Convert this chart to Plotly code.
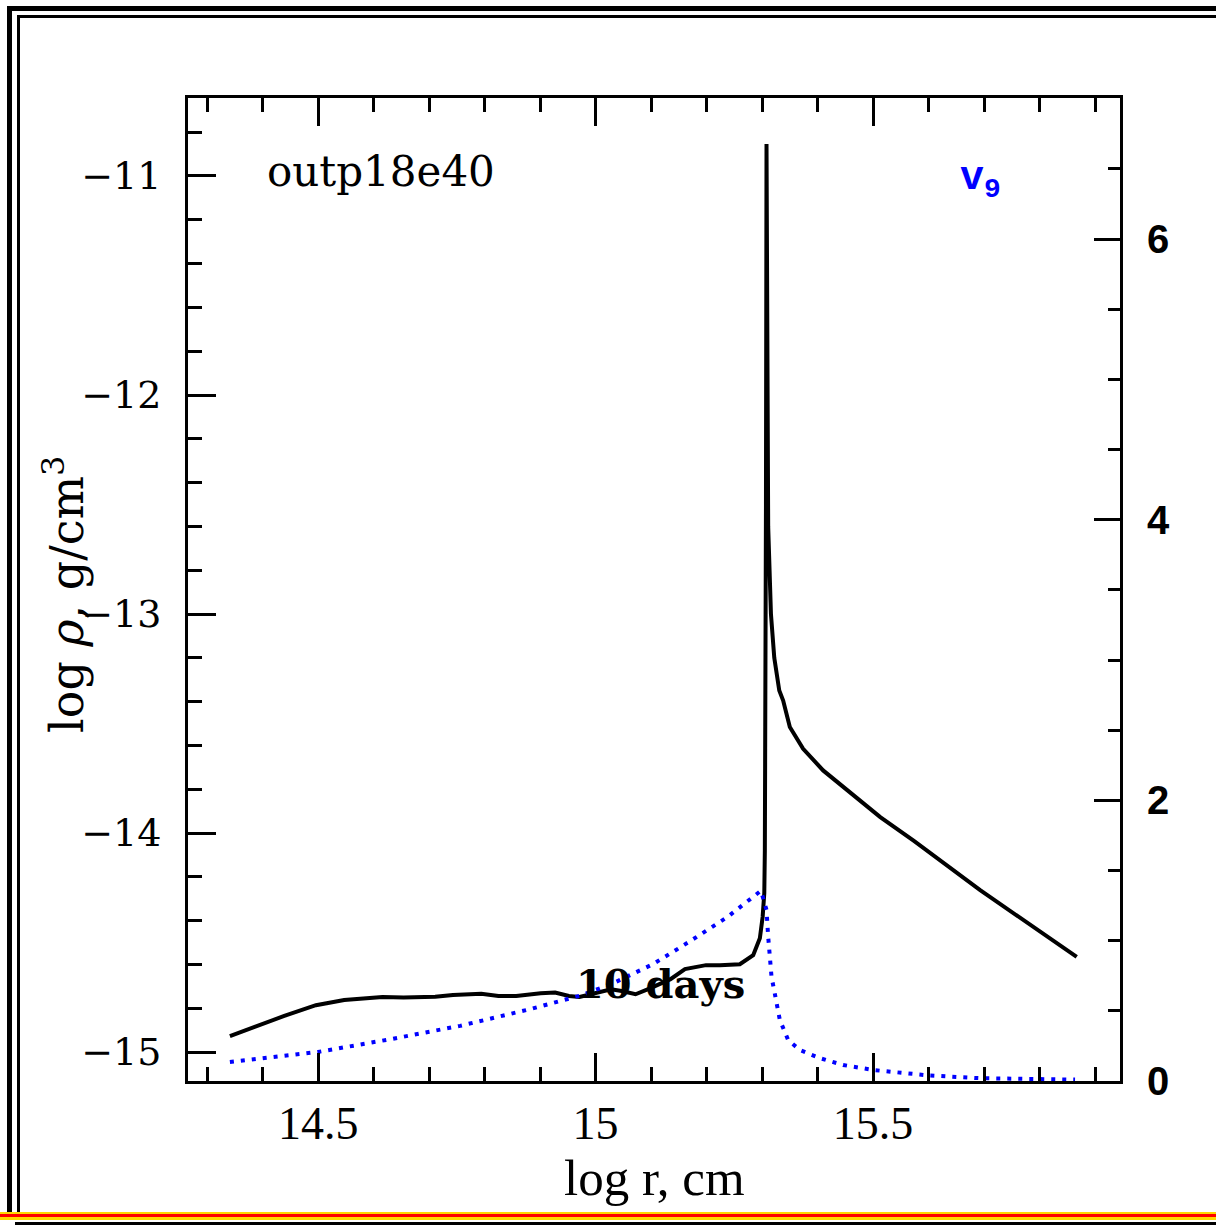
import plotly.graph_objects as go

# ---- data ----
rho_logr = [14.341, 14.401, 14.439, 14.496, 14.547, 14.616, 14.654, 14.711, 14.743, 14.794,
            14.825, 14.857, 14.901, 14.927, 14.952, 14.971, 14.996, 15.028, 15.047, 15.072,
            15.097, 15.135, 15.161, 15.199, 15.224, 15.260, 15.284, 15.296, 15.301, 15.304,
            15.305, 15.306, 15.307, 15.308, 15.309, 15.311, 15.316, 15.322, 15.331, 15.338,
            15.350, 15.374, 15.410, 15.513, 15.573, 15.693, 15.867]
rho_log = [-14.927, -14.869, -14.835, -14.786, -14.762, -14.748, -14.751, -14.747, -14.739, -14.734,
           -14.744, -14.744, -14.731, -14.728, -14.744, -14.748, -14.733, -14.713, -14.721, -14.736,
           -14.710, -14.667, -14.621, -14.603, -14.603, -14.599, -14.558, -14.480, -14.383, -14.274,
           -14.079, -13.500, -12.500, -10.854, -12.000, -12.600, -13.000, -13.200, -13.349, -13.395,
           -13.516, -13.615, -13.714, -13.927, -14.035, -14.261, -14.565]

v_logr = [14.341, 14.5, 14.629, 14.756, 14.882, 14.971, 15.028, 15.104, 15.167, 15.237,
          15.298, 15.308, 15.311, 15.314, 15.317, 15.324, 15.332, 15.347, 15.368, 15.405,
          15.446, 15.501, 15.543, 15.6, 15.692, 15.864]
v9 = [0.135, 0.207, 0.297, 0.393, 0.512, 0.607, 0.690, 0.834, 0.988, 1.167,
      1.356, 1.219, 1.028, 0.886, 0.743, 0.601, 0.435, 0.292, 0.221, 0.162,
      0.114, 0.078, 0.059, 0.040, 0.020, 0.010]

W, H = 1216, 1227
L, R, T, B = 188, 1120, 98, 1081


def px(x):
    return (x - L) / (R - L)


def py(y):
    return (B - y) / (B - T)


fig = go.Figure()
fig.add_trace(go.Scatter(x=rho_logr, y=rho_log, mode="lines",
                         line=dict(color="black", width=4), showlegend=False))
fig.add_trace(go.Scatter(x=v_logr, y=v9, mode="lines", yaxis="y2",
                         line=dict(color="#0000ff", width=4, dash="4px,7px"), showlegend=False))

serif = "DejaVu Serif"
fig.update_layout(
    width=W, height=H, autosize=False,
    margin=dict(l=L, r=W - R, t=T, b=H - B),
    paper_bgcolor="white", plot_bgcolor="white",
    xaxis=dict(range=[14.2655, 15.945], showgrid=False, zeroline=False,
               showline=True, linewidth=3, linecolor="black", mirror="ticks",
               ticks="inside", ticklen=28, tickwidth=3, tickcolor="black",
               tick0=14.5, dtick=0.5,
               minor=dict(dtick=0.1, tick0=14.3, ticks="inside", ticklen=14,
                          tickwidth=3, tickcolor="black"),
               tickfont=dict(family="Liberation Serif", size=46, color="black"),
               ticklabelstandoff=0),
    yaxis=dict(range=[-15.132, -10.644], showgrid=False, zeroline=False,
               showline=True, linewidth=3, linecolor="black",
               ticks="inside", ticklen=28, tickwidth=3, tickcolor="black",
               tick0=-15, dtick=1,
               minor=dict(dtick=0.2, ticks="inside", ticklen=14,
                          tickwidth=3, tickcolor="black"),
               tickfont=dict(family=serif, size=38, color="black"),
               ticklabelstandoff=16),
    yaxis2=dict(range=[0, 7.005], overlaying="y", side="right", showgrid=False,
                zeroline=False, showline=True, linewidth=3, linecolor="black",
                ticks="inside", ticklen=26, tickwidth=3, tickcolor="black",
                tick0=0, dtick=2,
                minor=dict(dtick=0.5, ticks="inside", ticklen=12,
                           tickwidth=3, tickcolor="black"),
                tickfont=dict(family="Liberation Sans", size=40, color="black", weight="bold"),
                ticklabelstandoff=16),
)

ann = [
    dict(text="outp18e40", x=px(265), y=py(172), xanchor="left", yanchor="middle",
         font=dict(family=serif, size=42, color="black")),
    dict(text="v<sub>9</sub>", x=px(958), y=py(180), xanchor="left", yanchor="middle",
         font=dict(family="Liberation Mono", size=40, color="#0000ff", weight="bold")),
    dict(text="10 days", x=px(660), y=py(983), xanchor="center", yanchor="middle",
         font=dict(family=serif, size=40, color="black", weight="bold")),
    dict(text="log r, cm", x=px(654), y=py(1178), xanchor="center", yanchor="middle",
         font=dict(family="Liberation Serif", size=51, color="black")),
    dict(text="log <i>ρ</i>, g/cm<sup>3</sup>", x=px(64), y=py(594), xanchor="center",
         yanchor="middle", textangle=-90,
         font=dict(family=serif, size=46, color="black")),
]
for a in ann:
    a.update(xref="paper", yref="paper", showarrow=False)
fig.update_layout(annotations=ann)

# frame decoration
shapes = []


def band(x0, x1, y0, y1, color):
    shapes.append(dict(type="rect", xref="paper", yref="paper",
                       x0=px(x0), x1=px(x1), y0=py(y1), y1=py(y0),
                       fillcolor=color, line=dict(width=0), layer="above"))


band(7, W, 6, 11, "black")
band(17, W, 15, 18, "black")
band(7, 12, 6, 1212, "black")
band(17, 20, 15, 1212, "black")
band(0, W, 1212, 1214, "#ffd700")
band(0, W, 1214, 1217, "#ff0000")
band(0, W, 1217, 1220, "#ffd700")
band(15, W, 1222, 1225, "black")
fig.update_layout(shapes=shapes)

fig.write_html("out.html")
